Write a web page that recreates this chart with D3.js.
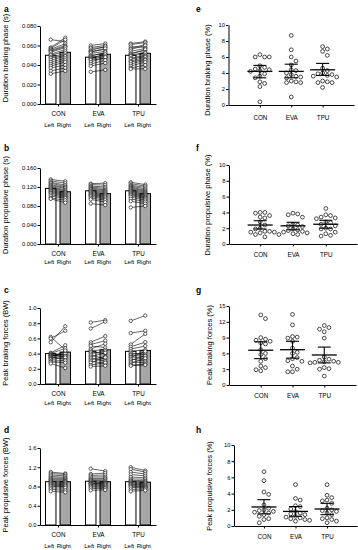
<!DOCTYPE html>
<html>
<head>
<meta charset="utf-8">
<script src="https://cdn.jsdelivr.net/npm/d3@7"></script>
<style>
body { margin: 0; background: #fff; }
svg { font-family: Arial, "Liberation Sans", sans-serif; }
</style>
</head>
<body>
<script>
var groups = ["CON", "EVA", "TPU"];
var sides = ["Left", "Right"];

// a - duration braking phase (s), bar = group mean [Left, Right]
var aMeans = [[0.050, 0.053], [0.048, 0.051], [0.050, 0.052]];
var aConL = [0.066,0.058,0.057,0.056,0.055,0.054,0.053,0.051,0.050,0.048,0.047,0.045,0.043,0.041,0.039,0.037,0.034,0.031];
var aConR = [0.064,0.068,0.066,0.062,0.060,0.059,0.058,0.056,0.054,0.052,0.050,0.049,0.047,0.045,0.043,0.040,0.037,0.034];
var aEvaL = [0.060,0.058,0.057,0.055,0.054,0.053,0.052,0.050,0.049,0.048,0.047,0.046,0.045,0.043,0.041,0.039,0.033];
var aEvaR = [0.062,0.060,0.058,0.059,0.056,0.057,0.054,0.052,0.053,0.050,0.051,0.049,0.047,0.048,0.045,0.042,0.035];
var aTpuL = [0.062,0.061,0.059,0.057,0.056,0.054,0.052,0.051,0.050,0.049,0.047,0.046,0.044,0.043,0.041,0.039,0.037,0.036];
var aTpuR = [0.064,0.063,0.058,0.061,0.060,0.057,0.055,0.056,0.053,0.052,0.050,0.049,0.048,0.046,0.045,0.043,0.040,0.036];

// b - duration propulsive phase (s)
var bMeans = [[0.117, 0.110], [0.112, 0.106], [0.112, 0.106]];
var bConL = [0.136,0.133,0.130,0.128,0.125,0.123,0.121,0.119,0.117,0.115,0.113,0.111,0.109,0.107,0.104,0.101,0.097,0.095];
var bConR = [0.132,0.128,0.124,0.121,0.119,0.117,0.114,0.112,0.110,0.108,0.106,0.104,0.102,0.100,0.098,0.096,0.092,0.087];
var bEvaL = [0.127,0.125,0.122,0.120,0.118,0.116,0.114,0.112,0.110,0.108,0.106,0.104,0.102,0.100,0.097,0.094,0.085];
var bEvaR = [0.128,0.124,0.120,0.117,0.114,0.112,0.110,0.108,0.106,0.104,0.102,0.100,0.098,0.095,0.092,0.088,0.082];
var bTpuL = [0.130,0.127,0.124,0.122,0.120,0.118,0.116,0.114,0.112,0.110,0.108,0.106,0.104,0.102,0.099,0.095,0.090,0.077];
var bTpuR = [0.125,0.122,0.119,0.116,0.113,0.111,0.109,0.107,0.105,0.103,0.101,0.099,0.097,0.095,0.092,0.089,0.085,0.080];

// c - peak braking forces (BW)
var cMeans = [[0.40, 0.42], [0.43, 0.45], [0.43, 0.44]];
var cConL = [0.62,0.60,0.55,0.41,0.40,0.39,0.38,0.37,0.37,0.36,0.35,0.34,0.33,0.32,0.30,0.29,0.27];
var cConR = [0.45,0.70,0.76,0.51,0.47,0.38,0.36,0.42,0.39,0.40,0.33,0.37,0.44,0.35,0.31,0.28,0.21];
var cEvaL = [0.81,0.73,0.55,0.52,0.50,0.46,0.44,0.42,0.40,0.38,0.36,0.34,0.32,0.30,0.28,0.25,0.23];
var cEvaR = [0.84,0.82,0.63,0.57,0.48,0.53,0.45,0.40,0.43,0.33,0.41,0.30,0.36,0.27,0.35,0.28,0.24];
var cTpuL = [0.83,0.67,0.52,0.49,0.46,0.43,0.41,0.39,0.38,0.36,0.35,0.33,0.31,0.29,0.27,0.25,0.24];
var cTpuR = [0.90,0.70,0.66,0.55,0.50,0.45,0.38,0.41,0.36,0.33,0.43,0.30,0.37,0.28,0.34,0.26,0.25];

// d - peak propulsive forces (BW)
var dMeans = [[0.90, 0.90], [0.91, 0.90], [0.90, 0.89]];
var dConL = [1.10,1.07,1.04,1.01,0.98,0.96,0.94,0.92,0.90,0.88,0.86,0.84,0.82,0.80,0.77,0.74,0.70];
var dConR = [1.07,1.05,1.02,0.99,0.97,0.95,0.93,0.91,0.90,0.88,0.86,0.84,0.82,0.80,0.77,0.72,0.68];
var dEvaL = [1.17,1.06,1.03,1.00,0.97,0.95,0.93,0.91,0.89,0.87,0.86,0.85,0.83,0.81,0.79,0.76,0.72];
var dEvaR = [1.12,1.08,1.04,1.00,0.97,0.95,0.92,0.90,0.88,0.87,0.86,0.84,0.82,0.80,0.78,0.76,0.73];
var dTpuL = [1.20,1.16,1.10,1.05,1.00,0.96,0.93,0.91,0.89,0.87,0.85,0.84,0.82,0.80,0.78,0.74,0.70];
var dTpuR = [1.13,1.10,1.06,1.02,0.98,0.95,0.92,0.90,0.88,0.86,0.84,0.82,0.80,0.79,0.77,0.75,0.72];

// e-h - asymmetry (%), mean with 95% CI
var eCon = [6.3,6.0,6.0,6.0,4.9,4.7,4.5,4.4,4.3,4.2,3.9,3.6,3.4,2.9,2.7,2.3,0.4];
var eEva = [8.7,6.9,6.0,5.5,5.0,4.4,4.3,4.0,3.8,3.6,3.5,3.4,3.0,2.9,2.8,2.8,1.0];
var eTpu = [7.3,7.0,6.7,6.2,4.6,4.3,4.0,3.9,3.8,3.7,3.6,3.5,3.0,2.9,2.8,2.8,2.2];
var eMean = [4.2, 4.2, 4.4], eLow = [3.4, 3.4, 3.7], eHigh = [4.95, 5.1, 5.2];

var fCon = [4.0,4.0,3.9,3.6,3.4,3.3,2.8,2.4,2.0,1.9,1.6,1.6,1.5,1.5,1.4,1.2,0.9];
var fEva = [3.9,3.8,3.7,3.4,2.5,2.4,2.3,2.2,1.9,1.8,1.7,1.6,1.5,1.4,1.3,1.2,1.2];
var fTpu = [4.5,3.7,3.6,3.4,3.3,3.2,2.8,2.7,2.5,2.3,2.0,1.9,1.9,1.5,1.3,1.1,1.0];
var fMean = [2.4, 2.3, 2.5], fLow = [1.9, 1.8, 2.0], fHigh = [2.95, 2.75, 3.0];

var gCon = [13.3,12.6,9.0,8.7,8.5,8.3,8.0,7.8,6.7,6.0,5.8,5.0,4.5,3.6,3.3,2.9,2.7];
var gEva = [13.4,11.4,9.2,9.1,8.9,8.3,7.0,6.2,6.0,5.2,5.0,4.6,4.5,3.6,3.0,2.5,2.5];
var gTpu = [11.3,10.9,10.6,10.1,8.9,5.3,4.9,4.7,4.5,4.4,4.3,4.3,4.2,3.3,3.1,3.0,1.7];
var gMean = [6.6, 6.7, 5.7], gLow = [5.0, 5.1, 4.2], gHigh = [8.2, 8.3, 7.2];

var hCon = [6.7,5.6,4.2,3.9,2.6,2.2,2.0,1.9,1.8,1.7,1.6,1.4,1.2,0.9,0.8,0.4];
var hEva = [5.1,3.4,3.2,2.5,2.4,2.1,1.8,1.6,1.5,1.4,1.2,1.1,1.0,0.9,0.8,0.7,0.6];
var hTpu = [5.1,3.8,3.5,3.2,3.1,2.8,2.2,2.0,1.9,1.8,1.6,1.4,1.0,0.9,0.8,0.6,0.4];
var hMean = [2.35, 1.8, 2.1], hLow = [1.5, 1.2, 1.4], hHigh = [3.25, 2.4, 2.8];

var svg = d3.select("body").append("svg")
    .attr("width", 358)
    .attr("height", 550);

function letter(t, x, y) {
  svg.append("text").attr("x", x).attr("y", y)
    .attr("font-size", 8.5).attr("font-weight", "bold").text(t);
}

function yTitle(t, x, cy) {
  svg.append("text")
    .attr("transform", "translate(" + x + "," + cy + ") rotate(-90)")
    .attr("text-anchor", "middle")
    .attr("font-size", 7.5)
    .text(t);
}

function styleAxis(g) {
  g.selectAll("path, line").attr("stroke", "#000").attr("stroke-width", 1);
  g.selectAll("text").attr("font-size", 5.8).attr("fill", "#000");
}

function barPanel(o) {
  var y = d3.scaleLinear().domain(o.domain).range([o.bottom, o.top]);
  var x = d3.scalePoint().domain(groups).range([40, 156]).padding(0.45);
  var xs = d3.scaleBand().domain(sides).range([-12.5, 12.5]).paddingInner(0.28);
  var g = svg.append("g");
  var bw = xs.bandwidth();

  groups.forEach(function(grp, gi) {
    sides.forEach(function(s, si) {
      var v = o.means[gi][si];
      g.append("rect")
        .attr("x", x(grp) + xs(s))
        .attr("y", y(v))
        .attr("width", bw)
        .attr("height", y(0) - y(v))
        .attr("fill", si ? "#a6a6a6" : "#fff")
        .attr("stroke", "#000")
        .attr("stroke-width", 1);
    });
  });

  groups.forEach(function(grp, gi) {
    var L = o.pairs[gi][0], R = o.pairs[gi][1];
    var xl = x(grp) + xs("Left") + bw / 2;
    var xr = x(grp) + xs("Right") + bw / 2;
    g.selectAll(null).data(L).enter().append("line")
      .attr("x1", xl).attr("x2", xr)
      .attr("y1", function(d) { return y(d); })
      .attr("y2", function(d, i) { return y(R[i]); })
      .attr("stroke", "#000").attr("stroke-width", 0.6);
    [[L, xl], [R, xr]].forEach(function(p) {
      g.selectAll(null).data(p[0]).enter().append("circle")
        .attr("cx", p[1]).attr("cy", function(d) { return y(d); })
        .attr("r", 1.7)
        .attr("fill", "#fff").attr("stroke", "#000").attr("stroke-width", 0.6);
    });
  });

  var ya = svg.append("g").attr("transform", "translate(40,0)")
    .call(d3.axisLeft(y).tickValues(o.ticks).tickFormat(d3.format(o.fmt))
      .tickSize(2.5).tickSizeOuter(0).tickPadding(1));
  styleAxis(ya);
  var xa = svg.append("g").attr("transform", "translate(0," + o.bottom + ")")
    .call(d3.axisBottom(x).tickSize(2.5).tickSizeOuter(0).tickPadding(o.labPad));
  styleAxis(xa);
  xa.selectAll("text").attr("font-size", 6.3);

  groups.forEach(function(grp) {
    sides.forEach(function(s) {
      svg.append("text")
        .attr("x", x(grp) + xs(s) + bw / 2 - 1.5)
        .attr("y", o.sideY)
        .attr("text-anchor", "middle")
        .attr("font-size", 6.1)
        .text(s);
    });
  });
  yTitle(o.title, 7.5, o.titleY);
  letter(o.letter, 4, o.letterY);
}

function dodge(vals, y, r) {
  var pts = vals.map(function(v) { return { v: v, py: y(v), dx: 0 }; });
  pts.sort(function(a, b) { return b.v - a.v; });
  var placed = [];
  var step = 2 * r + 0.9;
  pts.forEach(function(p) {
    for (var k = 0; k < 20; k++) {
      var off = (k % 2 ? 1 : -1) * Math.ceil(k / 2) * step;
      var hit = placed.some(function(q) {
        var dx = off - q.dx, dy = p.py - q.py;
        return dx * dx + dy * dy < step * step;
      });
      if (!hit) { p.dx = off; break; }
    }
    placed.push(p);
  });
  return pts;
}

function dotPanel(o) {
  var y = d3.scaleLinear().domain(o.domain).range([o.bottom, o.top]);
  var x = d3.scalePoint().domain(groups).range([o.left, o.right]).padding(o.pad);
  var g = svg.append("g");

  groups.forEach(function(grp, gi) {
    var pts = dodge(o.values[gi], y, 1.9);
    g.selectAll(null).data(pts).enter().append("circle")
      .attr("cx", function(d) { return x(grp) + d.dx; })
      .attr("cy", function(d) { return d.py; })
      .attr("r", 1.9)
      .attr("fill", "#fff").attr("stroke", "#000").attr("stroke-width", 0.7);
  });
  groups.forEach(function(grp, gi) {
    var cx = x(grp);
    g.append("line").attr("x1", cx - 12.5).attr("x2", cx + 12.5)
      .attr("y1", y(o.mean[gi])).attr("y2", y(o.mean[gi]))
      .attr("stroke", "#000").attr("stroke-width", 1.3);
    g.append("line").attr("x1", cx).attr("x2", cx)
      .attr("y1", y(o.low[gi])).attr("y2", y(o.high[gi]))
      .attr("stroke", "#000").attr("stroke-width", 1.1);
    [o.low[gi], o.high[gi]].forEach(function(v) {
      g.append("line").attr("x1", cx - 6.5).attr("x2", cx + 6.5)
        .attr("y1", y(v)).attr("y2", y(v))
        .attr("stroke", "#000").attr("stroke-width", 1.1);
    });
  });

  var ya = svg.append("g").attr("transform", "translate(" + o.left + ",0)")
    .call(d3.axisLeft(y).tickValues(o.ticks).tickSize(2.5).tickSizeOuter(0).tickPadding(1));
  styleAxis(ya);
  var xa = svg.append("g").attr("transform", "translate(0," + o.bottom + ")")
    .call(d3.axisBottom(x).tickSize(2.5).tickSizeOuter(0).tickPadding(o.labPad));
  styleAxis(xa);
  xa.selectAll("text").attr("font-size", 6.3);
  yTitle(o.title, o.titleX, o.titleY);
  letter(o.letter, 196, o.letterY);
}

barPanel({ letter: "a", letterY: 12, title: "Duration braking phase (s)", titleY: 58,
  domain: [0, 0.08], ticks: [0, 0.02, 0.04, 0.06, 0.08], fmt: ".3f", top: 26, bottom: 104,
  means: aMeans, pairs: [[aConL, aConR], [aEvaL, aEvaR], [aTpuL, aTpuR]], labPad: 5, sideY: 127 });

barPanel({ letter: "b", letterY: 151, title: "Duration propulsive phase (s)", titleY: 205,
  domain: [0, 0.16], ticks: [0, 0.04, 0.08, 0.12, 0.16], fmt: ".3f", top: 168, bottom: 244,
  means: bMeans, pairs: [[bConL, bConR], [bEvaL, bEvaR], [bTpuL, bTpuR]], labPad: 5, sideY: 264 });

barPanel({ letter: "c", letterY: 293, title: "Peak braking forces (BW)", titleY: 343,
  domain: [0, 1], ticks: [0, 0.2, 0.4, 0.6, 0.8, 1.0], fmt: ".1f", top: 308, bottom: 384,
  means: cMeans, pairs: [[cConL, cConR], [cEvaL, cEvaR], [cTpuL, cTpuR]], labPad: 5, sideY: 405 });

barPanel({ letter: "d", letterY: 433, title: "Peak propulsive forces (BW)", titleY: 485,
  domain: [0, 1.6], ticks: [0, 0.4, 0.8, 1.2, 1.6], fmt: ".1f", top: 448, bottom: 525,
  means: dMeans, pairs: [[dConL, dConR], [dEvaL, dEvaR], [dTpuL, dTpuR]], labPad: 5, sideY: 548 });

dotPanel({ letter: "e", letterY: 12, title: "Duration braking phase (%)", titleX: 210, titleY: 70,
  domain: [0, 10], ticks: [0, 2, 4, 6, 8, 10], top: 25, bottom: 105, left: 228.5, right: 354, pad: 1,
  values: [eCon, eEva, eTpu], mean: eMean, low: eLow, high: eHigh, labPad: 8 });

dotPanel({ letter: "f", letterY: 151, title: "Duration propulsive phase (%)", titleX: 210, titleY: 205,
  domain: [0, 10], ticks: [0, 2, 4, 6, 8, 10], top: 165, bottom: 244, left: 229, right: 357, pad: 0.95,
  values: [fCon, fEva, fTpu], mean: fMean, low: fLow, high: fHigh, labPad: 6 });

dotPanel({ letter: "g", letterY: 293, title: "Peak braking forces (%)", titleX: 212, titleY: 345,
  domain: [0, 15], ticks: [0, 3, 6, 9, 12, 15], top: 306, bottom: 385, left: 229, right: 356, pad: 1,
  values: [gCon, gEva, gTpu], mean: gMean, low: gLow, high: gHigh, labPad: 6 });

dotPanel({ letter: "h", letterY: 433, title: "Peak propulsive forces (%)", titleX: 212, titleY: 486,
  domain: [0, 10], ticks: [0, 2, 4, 6, 8, 10], top: 445, bottom: 526, left: 234, right: 357, pad: 0.95,
  values: [hCon, hEva, hTpu], mean: hMean, low: hLow, high: hHigh, labPad: 6 });
</script>
</body>
</html>
